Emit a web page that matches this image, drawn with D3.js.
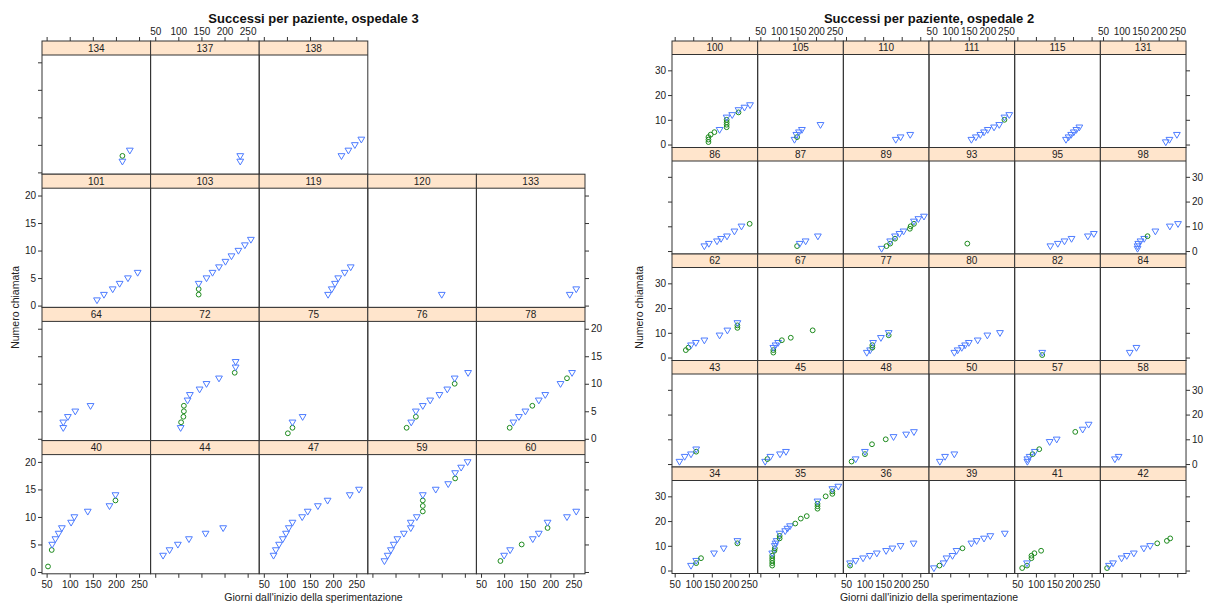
<!DOCTYPE html>
<html>
<head>
<meta charset="utf-8">
<script src="https://cdn.jsdelivr.net/npm/d3@7"></script>
<style>
  body { margin: 0; background: #fff; }
  text { font-family: "Liberation Sans", Arial, sans-serif; }
</style>
</head>
<body>
<svg id="chart" width="1221" height="603"></svg>
<script>
// ---- ospedale 3 ----
var h3Rows = [
  [134, 137, 138],
  [101, 103, 119, 120, 133],
  [64, 72, 75, 76, 78],
  [40, 44, 47, 59, 60]
];
// per patient: days, call number, esito ("v" = triangle, "o" = circle)
var h3Days = {
  134: [214, 214, 230],
  137: [234, 234],
  138: [218, 233, 247, 261],
  101: [159, 174, 193, 208, 226, 247],
  103: [144, 144, 144, 161, 174, 188, 202, 215, 230, 244, 257],
  119: [189, 197, 204, 211, 225, 238],
  120: [200],
  133: [242, 256],
  64: [86, 86, 96, 112, 145],
  72: [105, 106, 111, 112, 112, 120, 125, 146, 161, 188, 222, 224, 224],
  75: [102, 112, 112, 134],
  76: [124, 134, 144, 144, 159, 175, 195, 212, 228, 228, 257],
  78: [112, 120, 132, 146, 161, 175, 189, 222, 236, 247],
  40: [53, 61, 62, 69, 76, 83, 103, 110, 139, 186, 199, 199],
  44: [67, 81, 99, 123, 159, 197],
  47: [71, 76, 83, 91, 98, 104, 112, 133, 145, 167, 188, 236, 256],
  59: [76, 83, 90, 96, 104, 118, 133, 133, 146, 159, 159, 159, 159, 187, 214, 229, 229, 242, 256],
  60: [92, 100, 113, 138, 162, 175, 194, 194, 236, 256]
};
var h3Calls = {
  134: [2, 3, 4],
  137: [2, 3],
  138: [3, 4, 5, 6],
  101: [1, 2, 3, 4, 5, 6],
  103: [2, 3, 4, 5, 6, 7, 8, 9, 10, 11, 12],
  119: [2, 3, 4, 5, 6, 7],
  120: [2],
  133: [2, 3],
  64: [2, 3, 4, 5, 6],
  72: [2, 3, 4, 5, 6, 7, 8, 9, 10, 11, 12, 13, 14],
  75: [1, 2, 3, 4],
  76: [2, 3, 4, 5, 6, 7, 8, 9, 10, 11, 12],
  78: [2, 3, 4, 5, 6, 7, 8, 10, 11, 12],
  40: [1, 4, 5, 6, 7, 8, 9, 10, 11, 12, 13, 14],
  44: [3, 4, 5, 6, 7, 8],
  47: [3, 4, 5, 6, 7, 8, 9, 10, 11, 12, 13, 14, 15],
  59: [2, 3, 4, 5, 6, 7, 8, 9, 10, 11, 12, 13, 14, 15, 16, 17, 18, 19, 20],
  60: [2, 3, 4, 5, 6, 7, 8, 9, 10, 11]
};
var h3Esito = {
  134: "vov", 137: "vv", 138: "vvvv",
  101: "vvvvvv", 103: "oovvvvvvvvv", 119: "vvvvvv", 120: "v", 133: "vv",
  64: "vvvvv", 72: "voooovvvvvovv", 75: "oovv", 76: "ovovvvvvovv", 78: "ovvvovvvov",
  40: "oovvvvvvvvov", 44: "vvvvvv", 47: "vvvvvvvvvvvvv", 59: "vvvvvvvvvooovvvovvv", 60: "ovvovvovvv"
};

// ---- ospedale 2 ----
var h2Rows = [
  [100, 105, 110, 111, 115, 131],
  [86, 87, 89, 93, 95, 98],
  [62, 67, 77, 80, 82, 84],
  [43, 45, 48, 50, 57, 58],
  [34, 35, 36, 39, 41, 42]
];
var h2Days = {
  100: [141, 141, 141, 147, 157, 171, 190, 190, 190, 190, 190, 205, 222, 222, 238, 253],
  105: [142, 149, 147, 154, 162, 212],
  110: [184, 197, 223],
  111: [157, 169, 181, 191, 201, 218, 232, 246, 246, 259],
  115: [181, 188, 195, 202, 209, 217],
  131: [219, 229, 249],
  86: [130, 142, 164, 175, 191, 211, 230, 252],
  87: [149, 156, 172, 205],
  89: [146, 159, 169, 169, 182, 182, 194, 205, 222, 224, 233, 233, 245, 260],
  93: [146],
  95: [139, 159, 177, 196, 240, 256],
  98: [143, 143, 145, 151, 161, 170, 191, 230, 252],
  62: [80, 87, 94, 107, 130, 171, 192, 219, 219, 219],
  67: [85, 85, 85, 91, 98, 108, 132, 191],
  77: [106, 115, 121, 121, 123, 144, 165, 165],
  80: [111, 120, 131, 140, 150, 174, 200, 234],
  82: [117, 117],
  84: [122, 140],
  43: [63, 77, 94, 108, 108],
  45: [63, 69, 77, 103, 119],
  48: [65, 76, 101, 101, 120, 157, 178, 212, 233],
  50: [72, 86, 111],
  57: [77, 77, 83, 91, 97, 109, 137, 156, 206, 226, 242],
  58: [82, 92],
  34: [94, 108, 108, 121, 156, 182, 219, 219],
  35: [82, 82, 82, 82, 82, 82, 88, 89, 89, 91, 94, 102, 102, 102, 117, 123, 130, 144, 159, 175, 204, 204, 204, 204, 226, 244, 244, 244, 260],
  36: [61, 61, 76, 96, 114, 133, 158, 175, 197, 232],
  39: [56, 71, 82, 90, 106, 117, 133, 157, 171, 191, 208, 247],
  41: [63, 76, 76, 88, 88, 96, 114],
  42: [61, 66, 77, 100, 114, 133, 160, 177, 196, 222, 231]
};
var h2Calls = {
  100: [1, 2, 3, 4, 5, 6, 7, 8, 9, 10, 11, 12, 13, 14, 15, 16],
  105: [2, 3, 4, 5, 6, 8],
  110: [2, 3, 4],
  111: [2, 3, 4, 5, 6, 7, 8, 10, 11, 12],
  115: [2, 3, 4, 5, 6, 7],
  131: [1, 2, 4],
  86: [2, 3, 4, 5, 6, 8, 10, 11],
  87: [2, 3, 4, 6],
  89: [1, 2, 3, 4, 5, 6, 7, 8, 9, 10, 11, 12, 13, 14],
  93: [3],
  95: [2, 3, 4, 5, 6, 7],
  98: [1, 2, 3, 4, 5, 6, 8, 10, 11],
  62: [3, 4, 5, 6, 7, 9, 11, 12, 13, 14],
  67: [2, 3, 4, 5, 6, 7, 8, 11],
  77: [2, 3, 4, 5, 6, 8, 9, 10],
  80: [2, 3, 4, 5, 6, 7, 9, 10],
  82: [1, 2],
  84: [2, 4],
  43: [1, 3, 4, 5, 6],
  45: [1, 2, 3, 4, 5],
  48: [1, 2, 4, 5, 8, 10, 11, 12, 13],
  50: [1, 3, 4],
  57: [1, 2, 3, 4, 5, 6, 9, 10, 13, 14, 16],
  58: [2, 3],
  34: [2, 3, 4, 5, 7, 9, 11, 12],
  35: [2, 3, 4, 5, 6, 7, 8, 9, 10, 11, 12, 13, 14, 15, 16, 17, 18, 19, 21, 22, 25, 26, 27, 28, 30, 31, 32, 33, 34],
  36: [2, 3, 4, 5, 6, 7, 8, 9, 10, 11],
  39: [1, 2, 3, 5, 6, 8, 9, 11, 12, 13, 14, 15],
  41: [1, 2, 3, 5, 6, 7, 8],
  42: [1, 2, 3, 5, 6, 7, 9, 10, 11, 12, 13]
};
var h2Esito = {
  100: "ooooovoooovvovvv", 105: "vovvvv", 110: "vvv", 111: "vvvvvvvovv", 115: "vvvvvv", 131: "vvv",
  86: "vvvvvvvo", 87: "ovvv", 89: "voovovvvooovvv", 93: "o", 95: "vvvvvv", 98: "vvvvvovvv",
  62: "oovvvvvoov", 67: "oovvvooo", 77: "vvoovvov", 80: "vvvvvvvv", 82: "ov", 84: "vv",
  43: "vvvov", 45: "vovvv", 48: "ovovoovvv", 50: "vvv", 57: "vvvovovvovv", 58: "vv",
  34: "vovovvov", 35: "ooooovoovvvoovvvvoooooovooovv", 36: "ovvvvvvvvv",
  39: "vovvvvovvvvv", 41: "oovoooo", 42: "ovvvvvvvooo"
};

var xTicks = [50, 100, 150, 200, 250];
var h3YTicks = [0, 5, 10, 15, 20];
var h2YTicks = [0, 10, 20, 30];

var svg = d3.select("#chart");

function lattice(o) {
  var g = svg.append("g");
  var panelH = o.rowH - o.stripH;
  var nRows = o.rows.length;
  var x = d3.scaleLinear().domain(o.xDomain).range([0, o.colW]);
  var y = d3.scaleLinear().domain(o.yDomain).range([panelH, 0]);

  o.rows.forEach(function(row, r) {
    row.forEach(function(id, c) {
      var px = o.left + c * o.colW, py = o.top + r * o.rowH;
      var pg = g.append("g").attr("transform", "translate(" + px + "," + py + ")");

      pg.append("rect")
        .attr("width", o.colW).attr("height", o.stripH)
        .style("fill", "#ffe5cc");
      pg.append("text")
        .attr("x", o.colW / 2).attr("y", o.stripH - 3.5)
        .attr("text-anchor", "middle")
        .style("font-size", "10px").style("fill", "#222")
        .text(id);

      var panel = pg.append("g").attr("transform", "translate(0," + o.stripH + ")");
      var days = o.days[id], calls = o.calls[id], esito = o.esito[id];
      days.forEach(function(d, j) {
        var cx = x(d), cy = y(calls[j]);
        if (esito[j] === "o") {
          panel.append("circle")
            .attr("cx", cx).attr("cy", cy).attr("r", 2.4)
            .style("fill", "none").style("stroke", "#1d8a1d").style("stroke-width", 1);
        } else {
          panel.append("path")
            .attr("d", "M" + (cx - 3.4) + "," + (cy - 2.2) + "L" + (cx + 3.4) + "," + (cy - 2.2) + "L" + cx + "," + (cy + 3.6) + "Z")
            .style("fill", "none").style("stroke", "#4d7cff").style("stroke-width", 1);
        }
      });

      pg.append("line")
        .attr("x1", 0).attr("x2", o.colW).attr("y1", o.stripH).attr("y2", o.stripH)
        .style("stroke", "#333").style("stroke-width", 1);
      pg.append("rect")
        .attr("width", o.colW).attr("height", o.rowH)
        .style("fill", "none").style("stroke", "#333").style("stroke-width", 1);

      var fromBottom = nRows - 1 - r;
      function styleAxis(a) {
        a.select(".domain").remove();
        a.selectAll("line").style("stroke", "#333");
        a.selectAll("text").style("font-size", "10px").style("fill", "#222")
          .style("font-family", '"Liberation Sans", Arial, sans-serif');
      }
      if (r === 0) {
        pg.append("g")
          .call(d3.axisTop(x).tickValues(xTicks).tickSize(4).tickPadding(2)
            .tickFormat(c % 2 === 1 ? d3.format("d") : function() { return ""; }))
          .call(styleAxis);
      }
      if (r === nRows - 1) {
        pg.append("g").attr("transform", "translate(0," + o.rowH + ")")
          .call(d3.axisBottom(x).tickValues(xTicks).tickSize(4).tickPadding(3)
            .tickFormat(c % 2 === 0 ? d3.format("d") : function() { return ""; }))
          .call(styleAxis);
      }
      if (c === 0) {
        pg.append("g").attr("transform", "translate(0," + o.stripH + ")")
          .call(d3.axisLeft(y).tickValues(o.yTicks).tickSize(4).tickPadding(2)
            .tickFormat(fromBottom % 2 === 0 ? d3.format("d") : function() { return ""; }))
          .call(styleAxis);
      }
      if (c === o.nCols - 1) {
        pg.append("g").attr("transform", "translate(" + o.colW + "," + o.stripH + ")")
          .call(d3.axisRight(y).tickValues(o.yTicks).tickSize(4).tickPadding(2)
            .tickFormat(fromBottom % 2 === 1 ? d3.format("d") : function() { return ""; }))
          .call(styleAxis);
      }
    });
  });

  var w = o.colW * o.nCols, h = o.rowH * nRows;
  g.append("text")
    .attr("x", o.left + w / 2).attr("y", 23)
    .attr("text-anchor", "middle")
    .style("font-size", "13px").style("font-weight", "bold").style("fill", "#111")
    .text(o.title);
  g.append("text")
    .attr("x", o.left + w / 2).attr("y", o.top + h + 27)
    .attr("text-anchor", "middle")
    .style("font-size", "10.5px").style("fill", "#222")
    .text("Giorni dall'inizio della sperimentazione");
  g.append("text")
    .attr("transform", "translate(" + o.yLabelX + "," + (o.top + h / 2) + ") rotate(-90)")
    .attr("text-anchor", "middle")
    .style("font-size", "10.5px").style("fill", "#222")
    .text("Numero chiamata");
}

lattice({
  title: "Successi per paziente, ospedale 3",
  rows: h3Rows, days: h3Days, calls: h3Calls, esito: h3Esito,
  left: 42, top: 41, colW: 108.6, rowH: 133.2, stripH: 14, nCols: 5,
  xDomain: [40, 275], yDomain: [-0.33, 21.33], yTicks: h3YTicks,
  yLabelX: 19
});

lattice({
  title: "Successi per paziente, ospedale 2",
  rows: h2Rows, days: h2Days, calls: h2Calls, esito: h2Esito,
  left: 672, top: 41, colW: 85.67, rowH: 106.5, stripH: 13.5, nCols: 6,
  xDomain: [42.8, 273.6], yDomain: [-1.2, 36.4], yTicks: h2YTicks,
  yLabelX: 643
});
</script>
</body>
</html>
